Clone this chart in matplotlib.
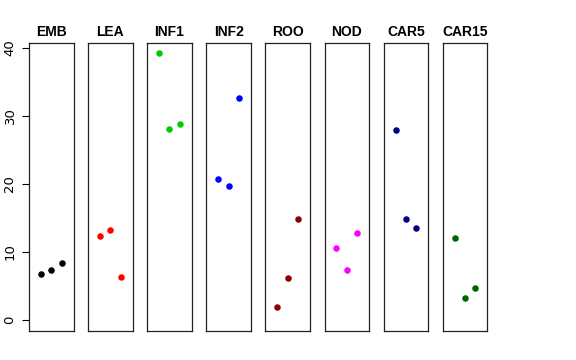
import matplotlib
matplotlib.use("Agg")
import matplotlib.pyplot as plt

groups = ["EMB", "LEA", "INF1", "INF2", "ROO", "NOD", "CAR5", "CAR15"]
colors = ["black", "red", "#00CD00", "blue", "#8B0000", "magenta", "#000080", "#006400"]
x_pos = [1, 2, 3]
values = [
    [6.7, 7.3, 8.4],
    [12.4, 13.3, 6.3],
    [39.2, 28.0, 28.8],
    [20.7, 19.75, 32.6],
    [1.9, 6.2, 14.9],
    [10.6, 7.3, 12.8],
    [27.9, 14.85, 13.6],
    [12.06, 3.3, 4.7],
]
y_ticks = [0, 10, 20, 30, 40]

W, H = 576, 360
fig = plt.figure(figsize=(W / 100, H / 100), dpi=100)
fig.patch.set_facecolor("white")

left0, step, pw = 29, 59.1, 44.5
top, bottom = 43, 331

for i, (name, col, vals) in enumerate(zip(groups, colors, values)):
    ax = fig.add_axes([(left0 + i * step) / W, 1 - bottom / H, pw / W, (bottom - top) / H])
    ax.scatter(x_pos, vals, s=22, color=col, linewidths=0, zorder=3)
    ax.set_xlim(-0.16, 4.16)
    ax.set_ylim(-1.6, 40.7)
    ax.set_xticks([])
    for sp in ax.spines.values():
        sp.set_linewidth(0.9)
        sp.set_color("#222222")
    ax.set_title(name, fontsize=10, fontweight="bold", pad=5,
                 family="Liberation Sans")
    if i == 0:
        ax.set_yticks(y_ticks)
        ax.tick_params(axis="y", length=5, width=0.8, labelsize=9.5, pad=4)
        for lab in ax.get_yticklabels():
            lab.set_rotation(90)
            lab.set_va("center")
            lab.set_family("DejaVu Sans")
    else:
        ax.set_yticks([])

fig.savefig("out.png", dpi=100, facecolor="white")
